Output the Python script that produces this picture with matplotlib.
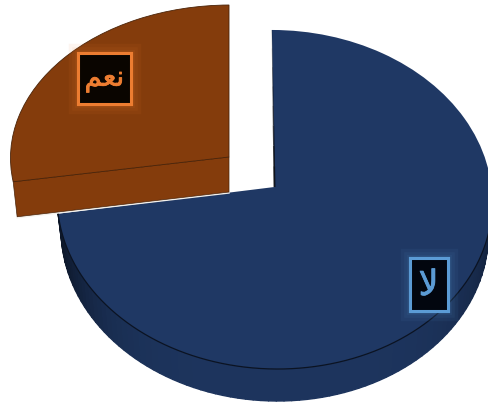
import numpy as np
import matplotlib
matplotlib.use('Agg')
import matplotlib.pyplot as plt
import matplotlib.patheffects as pe
from matplotlib.collections import PolyCollection
from matplotlib.patches import Rectangle
from matplotlib.transforms import Transform

labels = ['\ufefb', '\ufee2\ufecc\ufee7']  # la, naam (shaped, drawn left to right)
values = [72.5, 27.5]
face_colors = ['#1f3864', '#843c0c']
edge_colors = ['none', '#4a2308']
accent_colors = ['#5b9bd5', '#ed7d31']
box_colors = ['#02060f', '#0a0500']
label_sizes = [25, 20]

W, H = 489, 404


class TiltView(Transform):
    # unit circle -> tilted disc in pixel coordinates, with a bit of perspective
    input_dims = 2
    output_dims = 2

    def __init__(self, cx, cy, a, s, k, shear=0.0, lean=0.0):
        super().__init__()
        self.p = (cx, cy, a, s, k, shear, lean)

    def transform_non_affine(self, xy):
        cx, cy, a, s, k, shear, lean = self.p
        xy = np.asarray(xy)
        w = 1 + k * xy[:, 1]
        x = cx + (a * xy[:, 0] + lean * xy[:, 1]) / w
        y = cy - s * xy[:, 1] / w + shear * xy[:, 0]
        return np.column_stack([x, y])

    def inverted(self):
        raise NotImplementedError


def rim(angle_deg):
    t = np.radians(angle_deg)
    return np.column_stack([np.cos(t), np.sin(t)])


fig = plt.figure(figsize=(W / 100, H / 100), dpi=100)
ax = fig.add_axes([0, 0, 1, 1])

wedges, _ = ax.pie(values, startangle=90, counterclock=False, colors=face_colors)
ax.set_aspect('auto')
ax.set_xlim(0, W)
ax.set_ylim(H, 0)
ax.axis('off')

blue_view = TiltView(274.5, 187, 217, 168.6, 0.0737, 0.0, -2.8)
blue_low = TiltView(274.5, 219, 213, 168.6, 0.0737, 0.0, -2.8)
brown_view = TiltView(229, 157, 218.5, 152, 0.0, -1.0)
brown_low = TiltView(229, 192, 214.5, 152, 0.0, -1.0)

# where the large slice ends, clockwise from twelve o'clock
end_angle = 90 - 360 * values[0] / sum(values)

# side wall of the large slice, darker towards the two ends
ang = np.linspace(end_angle, 0, 90)
top = blue_view.transform_non_affine(rim(ang))
low = blue_low.transform_non_affine(rim(ang))
strips, shades = [], []
for i in range(len(ang) - 1):
    strips.append([top[i], top[i + 1], low[i + 1], low[i]])
    c = np.cos(np.radians(ang[i]))
    dark = 0.62 * abs(c) ** 5 if c < 0 else 0.35 * c ** 5
    shades.append(np.array([31, 56, 100]) / 255 * (1 - dark) * 0.93)
wall = PolyCollection(strips, facecolors=shades, edgecolors=shades, linewidths=1.0, zorder=1)
ax.add_collection(wall)

# front cut face of the small slice
edge = rim([end_angle])
p1 = brown_view.transform_non_affine(np.vstack([[0, 0], edge]))
p2 = brown_low.transform_non_affine(np.vstack([edge, [0, 0]]))
ax.fill(np.r_[p1[:, 0], p2[:, 0]], np.r_[p1[:, 1], p2[:, 1]], color=face_colors[1],
        ec=edge_colors[1], lw=0.5, zorder=4)

for w, view, ec, z in zip(wedges, [blue_view, brown_view], edge_colors, [3, 4.5]):
    w.set_transform(view + ax.transData)
    w.set_edgecolor(ec)
    w.set_linewidth(0.6)
    w.set_zorder(z)

# dark line where the top of the large slice meets its wall
ax.plot(top[:, 0], top[:, 1], color='#0b1322', lw=0.9, zorder=3.2)

# white seam under the small slice
ax.plot(p2[:, 0], p2[:, 1] + 1, color='#f4f1ec', lw=1.0, zorder=3.6)

# shadow along the straight edge of the large slice, heavier towards the centre
steps = np.linspace(1.0, 0.0, 9)
for j in range(len(steps) - 1):
    seg = blue_view.transform_non_affine(np.array([[0, steps[j]], [0, steps[j + 1]]]))
    ax.plot(seg[:, 0], seg[:, 1], color='#05070c', lw=0.5 + 0.12 * j, alpha=0.3 + 0.085 * j,
            solid_capstyle='butt', zorder=3.5)

boxes = [(409.5, 257.5, 38, 53), (77.5, 52.5, 53.5, 51.5)]
for i in range(2):
    x0, y0, bw, bh = boxes[i]
    r = Rectangle((x0, y0), bw, bh, fc=box_colors[i], ec=accent_colors[i], lw=2.2, zorder=6)
    r.set_path_effects([pe.withStroke(linewidth=w, foreground=accent_colors[i], alpha=0.07) for w in (14, 9, 5)]
                       + [pe.Normal()])
    ax.add_patch(r)
    t = ax.text(x0 + bw / 2, y0 + bh / 2 + 1, labels[i], color=accent_colors[i], fontsize=label_sizes[i],
                ha='center', va='center', family='DejaVu Sans', zorder=7)
    t.set_path_effects([pe.withStroke(linewidth=0.6, foreground=accent_colors[i])])

fig.savefig('out.png', dpi=100)
